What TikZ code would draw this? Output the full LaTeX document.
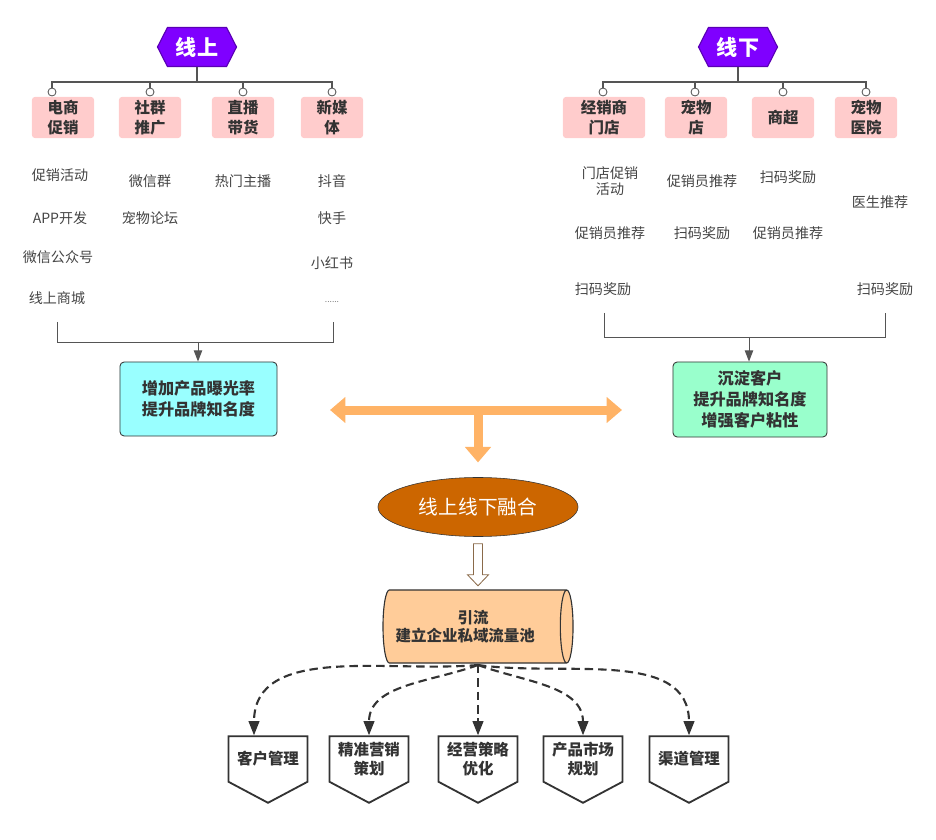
\documentclass[tikz,border=0pt]{standalone}
\usepackage{fontspec}
\setmainfont{Noto Sans CJK SC}
\usetikzlibrary{arrows.meta,shapes.geometric,shapes.symbols,calc}
\definecolor{hexfill}{HTML}{7F00FF}
\definecolor{hexline}{HTML}{5A00B4}
\definecolor{pinkbox}{HTML}{FFCCCC}
\definecolor{cyanbox}{HTML}{99FFFF}
\definecolor{greenbox}{HTML}{99FFCC}
\definecolor{orangearr}{HTML}{FFB366}
\definecolor{fusefill}{HTML}{CC6600}
\definecolor{poolfill}{HTML}{FFCC99}
\definecolor{darktext}{HTML}{333333}
\definecolor{itemtext}{HTML}{444444}
\definecolor{linegray}{HTML}{555555}
\definecolor{hollowline}{HTML}{8A6A4A}
\begin{document}
\begin{tikzpicture}[x=0.025cm,y=0.025cm,
    head/.style={signal,signal to=east and west,signal pointer angle=126,
      draw=hexline,fill=hexfill,text=white,inner sep=0pt,line width=0.8pt,
      minimum width=1.975cm,minimum height=0.975cm,
      font=\fontsize{15}{18}\selectfont\bfseries},
    cat/.style={rounded corners=2pt,fill=pinkbox,text=darktext,align=center,
      inner sep=0pt,minimum width=1.55cm,minimum height=1.025cm,
      font=\fontsize{11}{14}\selectfont\bfseries},
    knob/.style={circle,draw=linegray,fill=white,inner sep=0pt,
      minimum size=0.2cm,line width=0.6pt},
    item/.style={text=itemtext,align=center,inner sep=0pt,
      font=\fontsize{10}{11.5}\selectfont},
    goal/.style={draw=darktext,rounded corners=3pt,align=center,text=darktext,
      inner sep=0pt,line width=0.6pt,font=\fontsize{11.5}{15}\selectfont\bfseries},
    tree/.style={draw=linegray,line width=0.9pt},
    task/.style={signal,signal to=south,signal pointer angle=124,draw=darktext,
      line width=1.3pt,fill=white,text=darktext,align=center,inner sep=0pt,
      minimum width=1.975cm,minimum height=1.55cm,
      font=\fontsize{11}{13.5}\selectfont\bfseries},
    link/.style={draw=darktext,line width=1.5pt,dash pattern=on 6pt off 3.5pt,
      -{Triangle[width=7.5pt,length=10pt]}},
    wide/.style={draw=orangearr,line width=6.4pt,
      {Triangle[width=18pt,length=11pt]}-{Triangle[width=18pt,length=11pt]}},
  ]
  \useasboundingbox (0,0) rectangle (936,-840);

  %online branch
  \node[head] (on) at (197,-47) {线上};
  \node[knob] (ond1) at (52,-92) {};
  \node[knob] (ond2) at (150,-92) {};
  \node[knob] (ond3) at (243,-92) {};
  \node[knob] (ond4) at (332,-92) {};
  \node[cat] (on1) at (63,-117.5) {电商\\促销};
  \node[cat] (on2) at (150,-117.5) {社群\\推广};
  \node[cat] (on3) at (243,-117.5) {直播\\带货};
  \node[cat] (on4) at (332,-117.5) {新媒\\体};
  \coordinate (onbar) at (197,-82);
  \draw[tree] (on.south) -- (onbar);
  \foreach \d in {ond1,ond2,ond3,ond4}
    \draw[tree] (\d.north) |- (onbar);

  \node[item] (ta1) at (60,-175) {促销活动};
  \node[item] (ta2) at (60,-218) {APP开发};
  \node[item] (ta3) at (58,-257) {微信公众号};
  \node[item] (ta4) at (57,-298) {线上商城};
  \node[item] (tb1) at (150,-181) {微信群};
  \node[item] (tb2) at (150,-218) {宠物论坛};
  \node[item] (tc1) at (243,-181) {热门主播};
  \node[item] (td1) at (332,-181) {抖音};
  \node[item] (td2) at (332,-218) {快手};
  \node[item] (td3) at (332,-263) {小红书};
  \node[item,text=gray,font=\fontsize{6}{7}\selectfont] (td4) at (332,-302) {......};

  %offline branch
  \node[head] (off) at (738,-47) {线下};
  \node[knob] (offd1) at (603,-92) {};
  \node[knob] (offd2) at (695,-92) {};
  \node[knob] (offd3) at (783,-92) {};
  \node[knob] (offd4) at (866,-92) {};
  \node[cat,minimum width=2.05cm] (off1) at (604,-117.5) {经销商\\门店};
  \node[cat] (off2) at (696,-117.5) {宠物\\店};
  \node[cat] (off3) at (783,-117.5) {商超};
  \node[cat] (off4) at (866,-117.5) {宠物\\医院};
  \coordinate (offbar) at (738,-82);
  \draw[tree] (off.south) -- (offbar);
  \foreach \d in {offd1,offd2,offd3,offd4}
    \draw[tree] (\d.north) |- (offbar);

  \node[item] (ua1) at (610,-181) {门店促销\\活动};
  \node[item] (ua2) at (610,-233) {促销员推荐};
  \node[item] (ua3) at (603,-289) {扫码奖励};
  \node[item] (ub1) at (702,-181) {促销员推荐};
  \node[item] (ub2) at (702,-233) {扫码奖励};
  \node[item] (uc1) at (788,-177) {扫码奖励};
  \node[item] (uc2) at (788,-233) {促销员推荐};
  \node[item] (ud1) at (880,-202) {医生推荐};
  \node[item] (ud2) at (885,-289) {扫码奖励};

  %goals
  \node[goal,fill=cyanbox,minimum width=3.925cm,minimum height=1.85cm] (lgoal) at (198.5,-399) {增加产品曝光率\\提升品牌知名度};
  \node[goal,fill=greenbox,minimum width=3.85cm,minimum height=1.875cm] (rgoal) at (750,-399.5) {沉淀客户\\提升品牌知名度\\增强客户粘性};
  \coordinate (lbl) at (57,-322);
  \coordinate (lbr) at (333,-322);
  \coordinate (lmid) at (198,-342);
  \draw[tree,line width=0.7pt] (lbl) -- ++(0,-20) -| (lbr);
  \draw[tree,line width=0.7pt,-{Triangle[width=6pt,length=8pt]}] (lmid) -- (lgoal.north -| lmid);
  \coordinate (rbl) at (604,-313);
  \coordinate (rbr) at (885,-313);
  \coordinate (rmid) at (749,-337);
  \draw[tree,line width=0.7pt] (rbl) -- ++(0,-24) -| (rbr);
  \draw[tree,line width=0.7pt,-{Triangle[width=6pt,length=8pt]}] (rmid) -- (rgoal.north -| rmid);

  %merge
  \node[ellipse,draw=darktext,fill=fusefill,text=white,minimum width=5cm,minimum height=1.475cm,
    font=\fontsize{14}{16}\selectfont] (fuse) at (478,-507) {线上线下融合};
  \coordinate (wl) at (330,-410);
  \coordinate (wr) at (622,-410);
  \coordinate (wm) at (478,-410);
  \draw[wide] (wl) -- (wr);
  \draw[draw=orangearr,line width=6.4pt,-{Triangle[width=18pt,length=11pt]},shorten >=10.5pt] (wm) -- (fuse.north);

  \node[cylinder,draw=darktext,fill=poolfill,line width=0.8pt,aspect=0.3,
    minimum width=1.825cm,minimum height=4.75cm,align=center,text=darktext,
    font=\fontsize{11}{13}\selectfont\bfseries] (pool) at (473,-626.5) {引流\\建立企业私域流量池\hspace*{11pt}};
  \draw[hollowline,fill=white,line width=0.6pt]
    ($(fuse.south)+(-4.5,-7)$) -- ++(9,0) -- ++(0,-31) -- ++(6,0) -- ++(-10.5,-11)
    -- ++(-10.5,11) -- ++(6,0) -- cycle;

  %tasks
  \node[task] (t1) at (268,-759) {客户管理};
  \node[task] (t2) at (369,-759) {精准营销\\策划};
  \node[task] (t3) at (478,-759) {经营策略\\优化};
  \node[task] (t4) at (583,-759) {产品市场\\规划};
  \node[task] (t5) at (689,-759) {渠道管理};
  \coordinate (src) at (478,-665);
  \draw[link] (src) to[out=185,in=90] ($(t1.north)+(-14,0)$);
  \draw[link] (src) to[out=200,in=90] (t2.north);
  \draw[link] (src) -- (t3.north);
  \draw[link] (src) to[out=-20,in=90] (t4.north);
  \draw[link] (src) to[out=-8,in=90] (t5.north);
\end{tikzpicture}
\end{document}
